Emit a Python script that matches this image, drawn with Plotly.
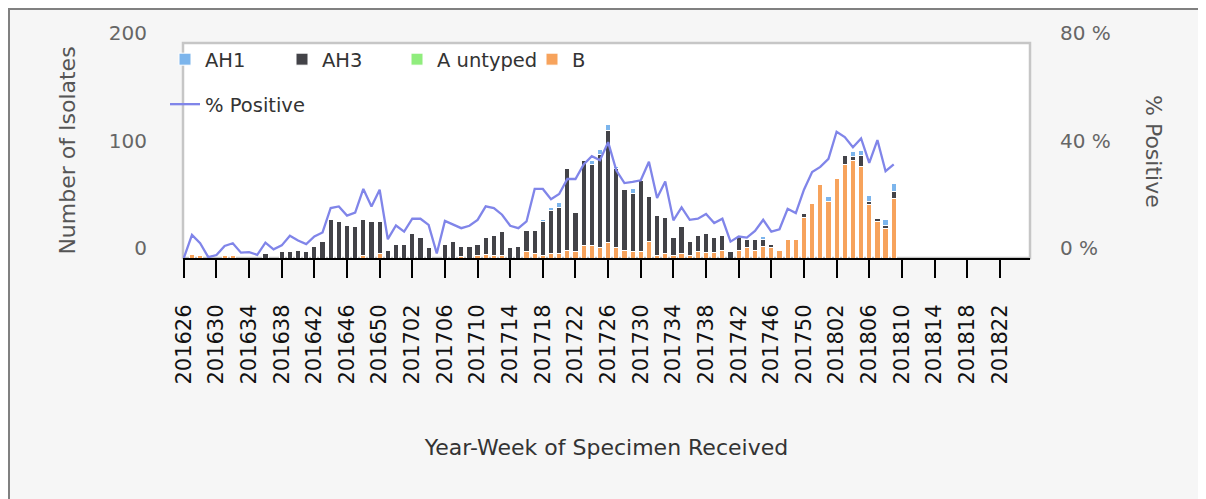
import plotly.graph_objects as go

# ---- categories (year-week) ----
weeks = ([f"2016{w:02d}" for w in range(26, 53)]
         + [f"2017{w:02d}" for w in range(1, 53)]
         + [f"2018{w:02d}" for w in range(1, 27)])
tick_labels = weeks[::4]
y2_ticks = [0, 40, 80]
y2_tick_text = ["0 %", "40 %", "80 %"]

# ---- series values (201626 .. 201809) ----
ah1 = [0, 0, 0, 0, 0, 0, 0, 0, 0, 0,
       0, 0, 0, 0, 0, 0, 0, 0, 0, 0,
       0, 0, 0, 0, 0, 0, 0, 0, 0, 0,
       0, 0, 0, 0, 0, 0, 0, 0, 0, 0,
       0, 0, 0, 0, 2, 3, 5, 0, 0, 0,
       4, 5, 5, 2, 0, 5, 0, 0, 0, 0,
       0, 0, 0, 0, 0, 0, 0, 0, 0, 0,
       0, 3, 0, 0, 0, 0, 0, 0, 0, 4,
       0, 0, 5, 5, 5, 0, 6, 7]
ah3 = [0, 0, 0, 0, 0, 0, 0, 0, 0, 0,
       4, 0, 6, 6, 7, 6, 11, 15, 36, 34,
       30, 29, 34, 34, 30, 7, 13, 13, 23, 19,
       10, 0, 13, 15, 10, 11, 11, 16, 19, 23,
       10, 11, 20, 22, 32, 40, 43, 76, 36, 79,
       75, 86, 105, 73, 57, 54, 66, 42, 38, 34,
       17, 25, 13, 15, 18, 14, 14, 6, 12, 7,
       10, 6, 3, 0, 0, 0, 3, 0, 0, 0,
       0, 8, 3, 10, 3, 3, 3, 7]
a_untyped = [0] * 88
b = [0, 3, 2, 0, 0, 2, 2, 0, 0, 0,
     0, 0, 0, 0, 0, 0, 0, 0, 0, 0,
     0, 0, 2, 0, 4, 0, 0, 0, 0, 0,
     0, 0, 0, 0, 1, 0, 2, 3, 2, 2,
     0, 0, 6, 4, 2, 4, 4, 7, 6, 12,
     12, 10, 14, 10, 7, 6, 6, 15, 2, 4,
     2, 4, 2, 6, 5, 5, 7, 0, 7, 10,
     7, 11, 10, 7, 17, 17, 38, 51, 68, 53,
     74, 87, 91, 85, 50, 34, 27, 55]
pct_positive = [0, 8.6, 5.5, 0.3, 1.1, 4.5, 5.5, 2.0, 2.2, 1.2,
                5.7, 3.2, 4.7, 8.3, 6.5, 5.2, 8.0, 9.5, 18.6, 19.2,
                15.8, 16.9, 25.7, 19.2, 25.4, 7.0, 12.1, 9.8, 14.6, 14.6,
                12.3, 1.7, 13.8, 12.3, 11.1, 12.0, 14.2, 19.2, 18.6, 16.1,
                12.0, 11.1, 13.6, 25.7, 25.7, 21.9, 23.8, 29.4, 29.4, 34.8,
                37.9, 36.4, 43.1, 32.6, 27.9, 28.3, 28.9, 35.8, 22.3, 28.5,
                14.0, 18.8, 14.2, 14.6, 16.4, 13.0, 14.6, 6.1, 8.0, 7.6,
                10.1, 14.2, 9.8, 10.7, 18.3, 16.7, 25.4, 32.0, 33.9, 36.9,
                47.0, 45.0, 41.2, 44.5, 35.4, 43.9, 32.3, 34.8]
x_data = weeks[:len(pct_positive)]

FONT = "DejaVu Sans"
OFF = 8                       # page body margin
W, H = 1206 - OFF, 499 - OFF
L, R, T, B = 183 - OFF, 1030 - OFF, 43 - OFF, 258 - OFF  # plot area (figure px)


def px(x):
    return (x - OFF - L) / (R - L)   # x given in screen px


def py(y):
    return (B - (y - OFF)) / (B - T)  # y given in screen px


fig = go.Figure()
bar_style = dict(marker_line_color="white", marker_line_width=1, showlegend=True)
fig.add_trace(go.Bar(x=x_data, y=b, name="B", marker_color="#f7a35c",
                     legend="legend5", **bar_style))
fig.add_trace(go.Bar(x=x_data, y=a_untyped, name="A untyped", marker_color="#90ed7d",
                     legend="legend4", **bar_style))
fig.add_trace(go.Bar(x=x_data, y=ah3, name="AH3", marker_color="#434348",
                     legend="legend3", **bar_style))
fig.add_trace(go.Bar(x=x_data, y=ah1, name="AH1", marker_color="#7cb5ec",
                     legend="legend", **bar_style))
fig.add_trace(go.Scatter(x=x_data, y=pct_positive, name="% Positive", mode="lines",
                         line=dict(color="#8085e9", width=2.3), yaxis="y2",
                         legend="legend2", showlegend=True))

legend_font = dict(size=19.5, color="#333333", family=FONT)


def legend_at(x_text, y_top):
    return dict(orientation="h", x=px(x_text - 40), y=py(y_top), xanchor="left",
                yanchor="top", itemwidth=30, bgcolor="rgba(0,0,0,0)", font=legend_font,
                visible=True)


fig.update_layout(
    width=W, height=H,
    margin=dict(l=L, r=W - R, t=T, b=H - B, autoexpand=False),
    paper_bgcolor="#f6f6f6", plot_bgcolor="white",
    showlegend=True,
    barmode="stack", bargap=0.36,
    font=dict(family=FONT, color="#333333"),
    xaxis=dict(type="category", categoryorder="array", categoryarray=weeks,
               range=[-0.1, 103.7], tickmode="array", tickvals=tick_labels,
               ticktext=tick_labels, tickangle=-90,
               tickfont=dict(size=21, color="#111111", family=FONT),
               ticks="outside", ticklen=18, tickwidth=2, tickcolor="black",
               ticklabelstandoff=18,
               showline=True, linecolor="black", linewidth=2,
               showgrid=False, zeroline=False, automargin=False,
               title=dict(text="Year-Week of Specimen Received",
                          font=dict(size=22, color="#333333", family=FONT),
                          standoff=56)),
    yaxis=dict(range=[0, 200], tickvals=[0, 100, 200], showgrid=False,
               zeroline=False, showline=False, automargin=False,
               tickfont=dict(size=20, color="#666666", family=FONT),
               ticklabelshift=-10, ticklabelstandoff=35,
               title=dict(text="Number of Isolates",
                          font=dict(size=22, color="#555555", family=FONT),
                          standoff=27)),
    yaxis2=dict(range=[0, 80], tickmode="array", tickvals=y2_ticks,
                ticktext=y2_tick_text,
                overlaying="y", side="right", showgrid=False, zeroline=False,
                showline=False, automargin=False,
                tickfont=dict(size=20, color="#666666", family=FONT),
                ticklabelshift=-10, ticklabelstandoff=29),
    legend=legend_at(205, 40),
    legend3=legend_at(322, 40),
    legend4=legend_at(437, 40),
    legend5=legend_at(572, 40),
    legend2=legend_at(205, 85),
    annotations=[dict(text="% Positive", xref="paper", yref="paper",
                      x=px(1154), y=py(151), xanchor="center", yanchor="middle",
                      textangle=90, showarrow=False,
                      font=dict(size=22, color="#555555", family=FONT))],
    shapes=[
        dict(type="rect", xref="paper", yref="paper", x0=px(OFF + 1), x1=px(1230),
             y0=py(530), y1=py(OFF + 1), line=dict(color="#808080", width=2),
             layer="below"),
        dict(type="rect", xref="paper", yref="paper", x0=0, x1=1, y0=0, y1=1,
             line=dict(color="#c6c6c6", width=2.5), layer="below"),
    ],
)

fig.write_html("out.html")
